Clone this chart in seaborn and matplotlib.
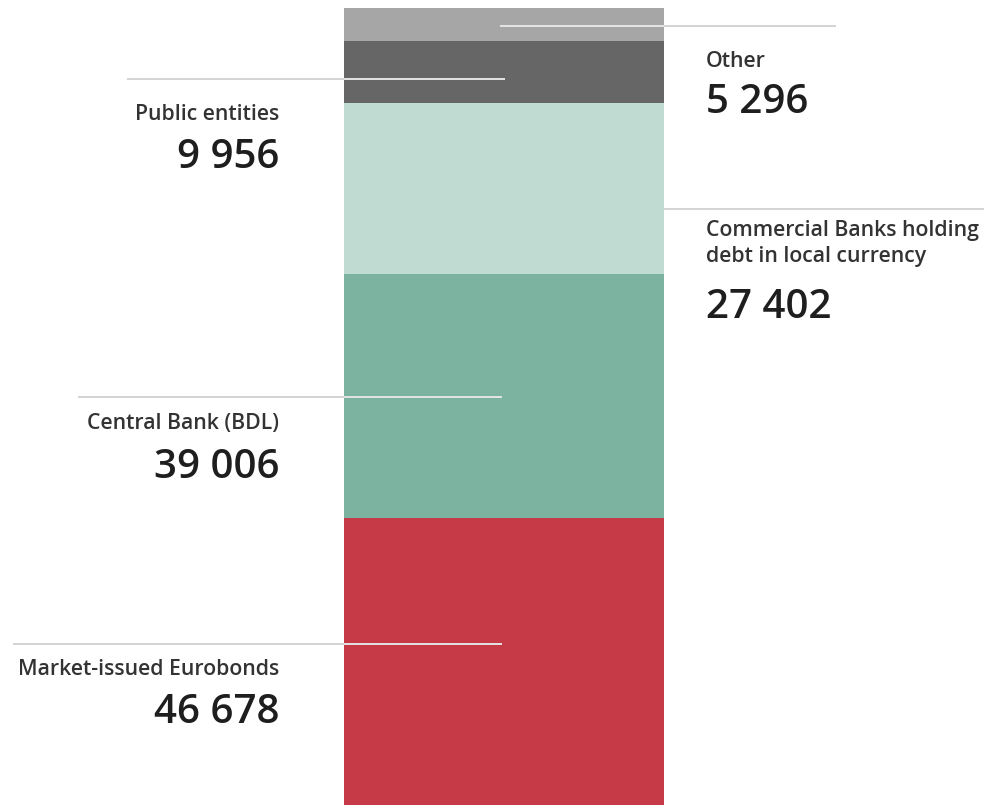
import matplotlib
matplotlib.use("Agg")
import matplotlib.pyplot as plt
import numpy as np
import pandas as pd
import seaborn as sns

# stacked from the bottom up
segments = ["Market-issued Eurobonds", "Central Bank (BDL)",
            "Commercial Banks holding\ndebt in local currency",
            "Public entities", "Other"]
values = [46678, 39006, 27402, 9956, 5296]
colors = ["#c63a48", "#7bb3a0", "#c0dcd2", "#666666", "#a6a6a6"]
value_labels = ["46 678", "39 006", "27 402", "9 956", "5 296"]

sns.set_theme(style="white")
plt.rcParams["font.family"] = ["Open Sans", "DejaVu Sans"]

df = pd.DataFrame({"segment": segments, "value": values, "color": colors})
df["top"] = np.cumsum(df["value"])
df["col"] = "debt"
# draw tallest cumulative bar first so that lower segments sit on top
draw = df.iloc[::-1]

fig = plt.figure(figsize=(9.88, 8.05), dpi=100)
ax = fig.add_axes([0, 0, 1, 1])
sns.barplot(data=draw, x="col", y="top", hue="segment", hue_order=list(draw["segment"]),
            palette=list(draw["color"]), dodge=False, width=0.8, saturation=1,
            legend=False, linewidth=0, ax=ax)
per_px = df["top"].iloc[-1] / 801
ax.set_xlim(-1.26, 1.21)
ax.set_ylim(4 * per_px, 4 * per_px + 805 * per_px)
ax.axis("off")

# overlay in pixel units for leader lines and labels
ov = fig.add_axes([0, 0, 1, 1], facecolor="none")
ov.set_xlim(0, 988)
ov.set_ylim(805, 0)
ov.axis("off")

# (y, outer x0, outer x1, inner x0, inner x1)
leaders = [
    (644, 13, 344, 344, 502),
    (397, 78, 344, 344, 502),
    (209, 664, 984, None, None),
    (79, 127, 344, 344, 505),
    (26, 664, 836, 500, 664),
]
for y, x0, x1, i0, i1 in leaders:
    ov.plot([x0, x1], [y, y], color="#cccccc", lw=1.2, solid_capstyle="butt")
    if i0 is not None:
        ov.plot([i0, i1], [y, y], color="#e4e4e4", lw=1.4, solid_capstyle="butt")

# label positions: (x, label top y, number top y, align)
label_pos = [
    (279, 659, 693, "right"),
    (279, 413, 448, "right"),
    (706, 220, 288, "left"),
    (279, 104, 138, "right"),
    (706, 51, 83, "left"),
]
for name, num, (x, ly, ny, ha) in zip(segments, value_labels, label_pos):
    ov.text(x, ly, name, ha=ha, va="top", fontsize=15.3, color="#333333",
            fontweight="semibold", linespacing=1.3)
    ov.text(x, ny, num, ha=ha, va="top", fontsize=29, color="#1e1e1e",
            fontweight="semibold")

fig.savefig("out.png", dpi=100)
